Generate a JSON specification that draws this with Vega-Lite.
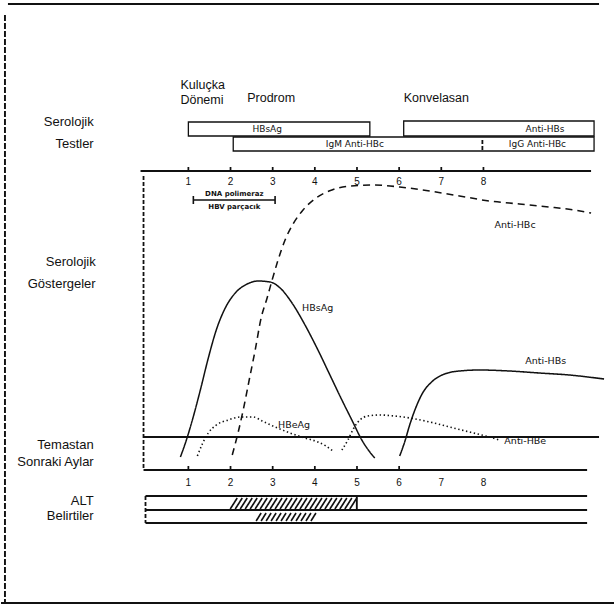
{
  "$schema": "https://vega.github.io/schema/vega-lite/v6.json",
  "width": 615,
  "height": 607,
  "autosize": {"type": "fit", "contains": "padding"},
  "padding": 0,
  "background": "white",
  "config": {"view": {"stroke": null}, "text": {"font": "Liberation Sans", "color": "#111"}},
  "resolve": {"scale": {"strokeDash": "independent", "strokeWidth": "independent"}},
  "datasets": {
    "curves": [
      {"series": "HBsAg", "x": 0.811, "y": 457}, {"series": "HBsAg", "x": 0.953, "y": 440}, {"series": "HBsAg", "x": 1.095, "y": 420},
      {"series": "HBsAg", "x": 1.284, "y": 390}, {"series": "HBsAg", "x": 1.473, "y": 358}, {"series": "HBsAg", "x": 1.662, "y": 330},
      {"series": "HBsAg", "x": 1.875, "y": 308}, {"series": "HBsAg", "x": 2.112, "y": 293}, {"series": "HBsAg", "x": 2.395, "y": 284},
      {"series": "HBsAg", "x": 2.655, "y": 281}, {"series": "HBsAg", "x": 2.939, "y": 282}, {"series": "HBsAg", "x": 3.176, "y": 288},
      {"series": "HBsAg", "x": 3.459, "y": 303}, {"series": "HBsAg", "x": 3.767, "y": 325}, {"series": "HBsAg", "x": 4.074, "y": 350},
      {"series": "HBsAg", "x": 4.358, "y": 375}, {"series": "HBsAg", "x": 4.642, "y": 400}, {"series": "HBsAg", "x": 4.878, "y": 420},
      {"series": "HBsAg", "x": 5.115, "y": 440}, {"series": "HBsAg", "x": 5.304, "y": 452}, {"series": "HBsAg", "x": 5.422, "y": 458},
      {"series": "Anti-HBc", "x": 2.041, "y": 455}, {"series": "Anti-HBc", "x": 2.183, "y": 432}, {"series": "Anti-HBc", "x": 2.301, "y": 410},
      {"series": "Anti-HBc", "x": 2.443, "y": 380}, {"series": "Anti-HBc", "x": 2.585, "y": 350}, {"series": "Anti-HBc", "x": 2.726, "y": 318},
      {"series": "Anti-HBc", "x": 2.868, "y": 298}, {"series": "Anti-HBc", "x": 2.987, "y": 280}, {"series": "Anti-HBc", "x": 3.128, "y": 260},
      {"series": "Anti-HBc", "x": 3.294, "y": 240}, {"series": "Anti-HBc", "x": 3.483, "y": 224}, {"series": "Anti-HBc", "x": 3.72, "y": 210},
      {"series": "Anti-HBc", "x": 4.027, "y": 198}, {"series": "Anti-HBc", "x": 4.405, "y": 190}, {"series": "Anti-HBc", "x": 4.831, "y": 186},
      {"series": "Anti-HBc", "x": 5.422, "y": 185}, {"series": "Anti-HBc", "x": 6.013, "y": 187}, {"series": "Anti-HBc", "x": 6.723, "y": 191},
      {"series": "Anti-HBc", "x": 7.432, "y": 196}, {"series": "Anti-HBc", "x": 8.141, "y": 201}, {"series": "Anti-HBc", "x": 8.851, "y": 204},
      {"series": "Anti-HBc", "x": 9.56, "y": 207}, {"series": "Anti-HBc", "x": 10.151, "y": 210}, {"series": "Anti-HBc", "x": 10.553, "y": 213},
      {"series": "HBeAg", "x": 1.213, "y": 456}, {"series": "HBeAg", "x": 1.331, "y": 444}, {"series": "HBeAg", "x": 1.473, "y": 433},
      {"series": "HBeAg", "x": 1.662, "y": 425}, {"series": "HBeAg", "x": 1.946, "y": 420}, {"series": "HBeAg", "x": 2.23, "y": 417},
      {"series": "HBeAg", "x": 2.537, "y": 417}, {"series": "HBeAg", "x": 2.75, "y": 421}, {"series": "HBeAg", "x": 3.057, "y": 427},
      {"series": "HBeAg", "x": 3.412, "y": 433}, {"series": "HBeAg", "x": 3.767, "y": 438}, {"series": "HBeAg", "x": 4.074, "y": 442},
      {"series": "HBeAg", "x": 4.263, "y": 446}, {"series": "HBeAg", "x": 4.429, "y": 451},
      {"series": "Anti-HBe", "x": 4.642, "y": 450}, {"series": "Anti-HBe", "x": 4.784, "y": 440}, {"series": "Anti-HBe", "x": 4.926, "y": 428},
      {"series": "Anti-HBe", "x": 5.067, "y": 420}, {"series": "Anti-HBe", "x": 5.257, "y": 416}, {"series": "Anti-HBe", "x": 5.54, "y": 415},
      {"series": "Anti-HBe", "x": 5.895, "y": 416}, {"series": "Anti-HBe", "x": 6.25, "y": 418}, {"series": "Anti-HBe", "x": 6.723, "y": 422},
      {"series": "Anti-HBe", "x": 7.196, "y": 427}, {"series": "Anti-HBe", "x": 7.669, "y": 432}, {"series": "Anti-HBe", "x": 8.141, "y": 437},
      {"series": "Anti-HBe", "x": 8.378, "y": 440},
      {"series": "Anti-HBs", "x": 6.013, "y": 456}, {"series": "Anti-HBs", "x": 6.131, "y": 442}, {"series": "Anti-HBs", "x": 6.25, "y": 425},
      {"series": "Anti-HBs", "x": 6.392, "y": 408}, {"series": "Anti-HBs", "x": 6.557, "y": 393}, {"series": "Anti-HBs", "x": 6.77, "y": 382},
      {"series": "Anti-HBs", "x": 7.077, "y": 374}, {"series": "Anti-HBs", "x": 7.432, "y": 371}, {"series": "Anti-HBs", "x": 7.905, "y": 370},
      {"series": "Anti-HBs", "x": 8.614, "y": 371}, {"series": "Anti-HBs", "x": 9.324, "y": 373}, {"series": "Anti-HBs", "x": 10.033, "y": 375},
      {"series": "Anti-HBs", "x": 10.861, "y": 379}
    ],
    "rules": [
      {"kind": "frame", "x": -3.28, "x2": 10.742, "y": 4, "y2": 4},
      {"kind": "frameDash", "x": -3.351, "x2": -3.351, "y": 15, "y2": 603},
      {"kind": "frame", "x": -3.445, "x2": 11.097, "y": 603, "y2": 603},
      {"kind": "line", "x": -0.135, "x2": 10.553, "y": 171, "y2": 171},
      {"kind": "tick", "x": 1, "x2": 1, "y": 167, "y2": 171},
      {"kind": "tick", "x": 2, "x2": 2, "y": 167, "y2": 171},
      {"kind": "tick", "x": 3, "x2": 3, "y": 167, "y2": 171},
      {"kind": "tick", "x": 4, "x2": 4, "y": 167, "y2": 171},
      {"kind": "tick", "x": 5, "x2": 5, "y": 167, "y2": 171},
      {"kind": "tick", "x": 6, "x2": 6, "y": 167, "y2": 171},
      {"kind": "tick", "x": 7, "x2": 7, "y": 167, "y2": 171},
      {"kind": "tick", "x": 8, "x2": 8, "y": 167, "y2": 171},
      {"kind": "dashed", "x": -0.064, "x2": -0.064, "y": 176, "y2": 470},
      {"kind": "line", "x": -0.064, "x2": 10.742, "y": 437, "y2": 437},
      {"kind": "line", "x": -0.064, "x2": 10.459, "y": 470, "y2": 470},
      {"kind": "tick", "x": 1, "x2": 1, "y": 466, "y2": 470},
      {"kind": "tick", "x": 2, "x2": 2, "y": 466, "y2": 470},
      {"kind": "tick", "x": 3, "x2": 3, "y": 466, "y2": 470},
      {"kind": "tick", "x": 4, "x2": 4, "y": 466, "y2": 470},
      {"kind": "tick", "x": 5, "x2": 5, "y": 466, "y2": 470},
      {"kind": "tick", "x": 6, "x2": 6, "y": 466, "y2": 470},
      {"kind": "line", "x": -0.017, "x2": 10.459, "y": 496, "y2": 496},
      {"kind": "line", "x": -0.017, "x2": 10.459, "y": 510, "y2": 510},
      {"kind": "line", "x": -0.017, "x2": 10.459, "y": 523, "y2": 523},
      {"kind": "dashed", "x": -0.017, "x2": -0.017, "y": 496, "y2": 523},
      {"kind": "line", "x": 4.996, "x2": 4.996, "y": 496, "y2": 510},
      {"kind": "thin", "x": 1.118, "x2": 3.057, "y": 200, "y2": 200},
      {"kind": "thin", "x": 1.118, "x2": 1.118, "y": 196, "y2": 204},
      {"kind": "thin", "x": 3.057, "x2": 3.057, "y": 196, "y2": 204},
      {"kind": "dashed", "x": 7.975, "x2": 7.975, "y": 140, "y2": 151},
      {"kind": "hatch", "x": 1.993, "x2": 2.159, "y": 509, "y2": 498},
      {"kind": "hatch", "x": 2.112, "x2": 2.278, "y": 509, "y2": 498},
      {"kind": "hatch", "x": 2.23, "x2": 2.396, "y": 509, "y2": 498},
      {"kind": "hatch", "x": 2.348, "x2": 2.514, "y": 509, "y2": 498},
      {"kind": "hatch", "x": 2.466, "x2": 2.632, "y": 509, "y2": 498},
      {"kind": "hatch", "x": 2.584, "x2": 2.75, "y": 509, "y2": 498},
      {"kind": "hatch", "x": 2.703, "x2": 2.869, "y": 509, "y2": 498},
      {"kind": "hatch", "x": 2.821, "x2": 2.987, "y": 509, "y2": 498},
      {"kind": "hatch", "x": 2.939, "x2": 3.105, "y": 509, "y2": 498},
      {"kind": "hatch", "x": 3.057, "x2": 3.223, "y": 509, "y2": 498},
      {"kind": "hatch", "x": 3.175, "x2": 3.341, "y": 509, "y2": 498},
      {"kind": "hatch", "x": 3.294, "x2": 3.46, "y": 509, "y2": 498},
      {"kind": "hatch", "x": 3.412, "x2": 3.578, "y": 509, "y2": 498},
      {"kind": "hatch", "x": 3.53, "x2": 3.696, "y": 509, "y2": 498},
      {"kind": "hatch", "x": 3.648, "x2": 3.814, "y": 509, "y2": 498},
      {"kind": "hatch", "x": 3.766, "x2": 3.932, "y": 509, "y2": 498},
      {"kind": "hatch", "x": 3.885, "x2": 4.051, "y": 509, "y2": 498},
      {"kind": "hatch", "x": 4.003, "x2": 4.169, "y": 509, "y2": 498},
      {"kind": "hatch", "x": 4.121, "x2": 4.287, "y": 509, "y2": 498},
      {"kind": "hatch", "x": 4.239, "x2": 4.405, "y": 509, "y2": 498},
      {"kind": "hatch", "x": 4.357, "x2": 4.523, "y": 509, "y2": 498},
      {"kind": "hatch", "x": 4.476, "x2": 4.642, "y": 509, "y2": 498},
      {"kind": "hatch", "x": 4.594, "x2": 4.76, "y": 509, "y2": 498},
      {"kind": "hatch", "x": 4.712, "x2": 4.878, "y": 509, "y2": 498},
      {"kind": "hatch", "x": 4.83, "x2": 4.996, "y": 509, "y2": 498},
      {"kind": "hatch", "x": 2.608, "x2": 2.726, "y": 521, "y2": 513},
      {"kind": "hatch", "x": 2.726, "x2": 2.844, "y": 521, "y2": 513},
      {"kind": "hatch", "x": 2.845, "x2": 2.963, "y": 521, "y2": 513},
      {"kind": "hatch", "x": 2.963, "x2": 3.081, "y": 521, "y2": 513},
      {"kind": "hatch", "x": 3.081, "x2": 3.199, "y": 521, "y2": 513},
      {"kind": "hatch", "x": 3.199, "x2": 3.317, "y": 521, "y2": 513},
      {"kind": "hatch", "x": 3.317, "x2": 3.435, "y": 521, "y2": 513},
      {"kind": "hatch", "x": 3.436, "x2": 3.554, "y": 521, "y2": 513},
      {"kind": "hatch", "x": 3.554, "x2": 3.672, "y": 521, "y2": 513},
      {"kind": "hatch", "x": 3.672, "x2": 3.79, "y": 521, "y2": 513},
      {"kind": "hatch", "x": 3.79, "x2": 3.908, "y": 521, "y2": 513},
      {"kind": "hatch", "x": 3.908, "x2": 4.026, "y": 521, "y2": 513}
    ],
    "boxes": [
      {"test": "HBsAg", "x": 1.0, "x2": 5.305, "y": 122, "y2": 136},
      {"test": "Anti-HBs", "x": 6.108, "x2": 10.624, "y": 121, "y2": 136},
      {"test": "IgM/IgG Anti-HBc", "x": 2.064, "x2": 10.624, "y": 137, "y2": 151}
    ],
    "sideLabels": [
      {"text": "Serolojik", "x": -1.246, "y": 122},
      {"text": "Testler", "x": -1.246, "y": 144},
      {"text": "Serolojik", "x": -1.199, "y": 262},
      {"text": "Göstergeler", "x": -1.199, "y": 284},
      {"text": "Temastan", "x": -1.246, "y": 445},
      {"text": "Sonraki Aylar", "x": -1.246, "y": 462},
      {"text": "ALT", "x": -1.246, "y": 501},
      {"text": "Belirtiler", "x": -1.246, "y": 516}
    ],
    "phaseLabels": [
      {"text": "Kuluçka", "x": 0.811, "y": 85},
      {"text": "Dönemi", "x": 0.811, "y": 100},
      {"text": "Prodrom", "x": 2.396, "y": 98},
      {"text": "Konvelasan", "x": 6.108, "y": 98}
    ],
    "monthLabels": [
      {"text": "1", "x": 1, "y": 182}, {"text": "2", "x": 2, "y": 182}, {"text": "3", "x": 3, "y": 182}, {"text": "4", "x": 4, "y": 182},
      {"text": "5", "x": 5, "y": 182}, {"text": "6", "x": 6, "y": 182}, {"text": "7", "x": 7, "y": 182}, {"text": "8", "x": 8, "y": 182},
      {"text": "1", "x": 1, "y": 483}, {"text": "2", "x": 2, "y": 483}, {"text": "3", "x": 3, "y": 483}, {"text": "4", "x": 4, "y": 483},
      {"text": "5", "x": 5, "y": 483}, {"text": "6", "x": 6, "y": 483}, {"text": "7", "x": 7, "y": 483}, {"text": "8", "x": 8, "y": 483}
    ],
    "boxLabels": [
      {"text": "HBsAg", "x": 2.87, "y": 129},
      {"text": "Anti-HBs", "x": 9.46, "y": 129},
      {"text": "IgM Anti-HBc", "x": 4.95, "y": 144},
      {"text": "IgG Anti-HBc", "x": 9.28, "y": 144}
    ],
    "dnaLabels": [
      {"text": "DNA polimeraz", "x": 2.09, "y": 194},
      {"text": "HBV parçacık", "x": 2.09, "y": 207}
    ],
    "curveLabels": [
      {"text": "Anti-HBc", "x": 8.26, "y": 225},
      {"text": "HBsAg", "x": 3.696, "y": 308},
      {"text": "HBeAg", "x": 3.126, "y": 425},
      {"text": "Anti-HBe", "x": 8.496, "y": 441},
      {"text": "Anti-HBs", "x": 8.993, "y": 361}
    ]
  },
  "encoding": {
    "x": {"field": "x", "type": "quantitative", "axis": null, "scale": {"domain": [-3.445, 11.097], "nice": false, "zero": false}},
    "y": {"field": "y", "type": "quantitative", "axis": null, "scale": {"domain": [0, 607], "nice": false, "zero": false, "reverse": true}}
  },
  "layer": [
    {
      "data": {"name": "boxes"},
      "mark": {"type": "rect", "filled": false, "stroke": "#111", "strokeWidth": 1.3},
      "encoding": {"x2": {"field": "x2"}, "y2": {"field": "y2"}}
    },
    {
      "data": {"name": "rules"},
      "mark": {"type": "rule", "color": "#111"},
      "encoding": {
        "x2": {"field": "x2"},
        "y2": {"field": "y2"},
        "strokeWidth": {"field": "kind", "type": "nominal", "legend": null,
          "scale": {"domain": ["frame", "frameDash", "line", "dashed", "tick", "hatch", "thin"], "range": [2, 1.6, 1.4, 1.1, 1, 0.8, 0.9]}},
        "strokeDash": {"field": "kind", "type": "nominal", "legend": null,
          "scale": {"domain": ["frame", "frameDash", "line", "dashed", "tick", "hatch", "thin"], "range": [[1, 0], [6, 2], [1, 0], [4, 2], [1, 0], [1, 0], [1, 0]]}}
      }
    },
    {
      "data": {"name": "curves"},
      "mark": {"type": "line", "interpolate": "monotone", "color": "#111"},
      "encoding": {
        "detail": {"field": "series", "type": "nominal"},
        "strokeDash": {"field": "series", "type": "nominal", "legend": null,
          "scale": {"domain": ["HBsAg", "Anti-HBs", "Anti-HBc", "HBeAg", "Anti-HBe"], "range": [[1, 0], [1, 0], [7, 5], [1.4, 2.6], [1.4, 2.6]]}},
        "strokeWidth": {"field": "series", "type": "nominal", "legend": null,
          "scale": {"domain": ["HBsAg", "Anti-HBs", "Anti-HBc", "HBeAg", "Anti-HBe"], "range": [1.5, 1.6, 1.6, 1.4, 1.2]}}
      }
    },
    {
      "data": {"name": "sideLabels"},
      "mark": {"type": "text", "align": "right", "baseline": "middle", "fontSize": 13, "color": "#111"},
      "encoding": {"text": {"field": "text"}}
    },
    {
      "data": {"name": "phaseLabels"},
      "mark": {"type": "text", "align": "left", "baseline": "middle", "fontSize": 12.5, "color": "#111"},
      "encoding": {"text": {"field": "text"}}
    },
    {
      "data": {"name": "monthLabels"},
      "mark": {"type": "text", "align": "center", "baseline": "middle", "fontSize": 10, "color": "#111"},
      "encoding": {"text": {"field": "text"}}
    },
    {
      "data": {"name": "boxLabels"},
      "mark": {"type": "text", "align": "center", "baseline": "middle", "fontSize": 9, "font": "DejaVu Sans", "color": "#111"},
      "encoding": {"text": {"field": "text"}}
    },
    {
      "data": {"name": "dnaLabels"},
      "mark": {"type": "text", "align": "center", "baseline": "middle", "fontSize": 7, "font": "DejaVu Sans", "fontWeight": "bold", "color": "#111"},
      "encoding": {"text": {"field": "text"}}
    },
    {
      "data": {"name": "curveLabels"},
      "mark": {"type": "text", "align": "left", "baseline": "middle", "fontSize": 9.5, "font": "DejaVu Sans", "color": "#111"},
      "encoding": {"text": {"field": "text"}}
    }
  ]
}
